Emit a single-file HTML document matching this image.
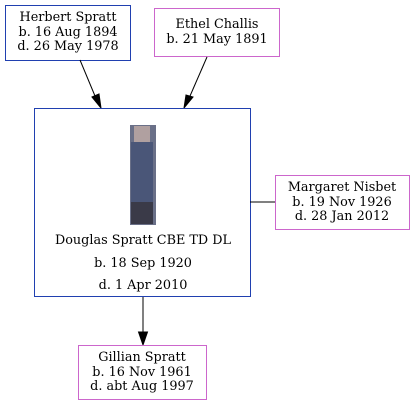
<!DOCTYPE html>
<html><head><style>body{margin:0;background:#fff}svg text{font-family:"DejaVu Serif","Liberation Serif",serif;font-size:12.8px;fill:#000}</style></head>
<body>
<svg width="415" height="405" viewBox="0 0 415 405" xmlns="http://www.w3.org/2000/svg">
<rect x="5.5" y="5.5" width="125" height="55" fill="#fff" stroke="#2040b0"/>
<text x="68" y="21" text-anchor="middle">Herbert Spratt</text>
<text x="68" y="36" text-anchor="middle">b. 16 Aug 1894</text>
<text x="68" y="50" text-anchor="middle">d. 26 May 1978</text>
<rect x="154.5" y="8.5" width="125" height="48" fill="#fff" stroke="#cc66cc"/>
<text x="217" y="28" text-anchor="middle">Ethel Challis</text>
<text x="217" y="43" text-anchor="middle">b. 21 May 1891</text>
<line x1="80" y1="60" x2="95" y2="96" stroke="#000"/>
<polygon points="92,97 101,108 99,94" fill="#000" stroke="#000"/>
<line x1="207" y1="57" x2="190" y2="96" stroke="#000"/>
<polygon points="186,95 184,108 193,97" fill="#000" stroke="#000"/>
<rect x="34.5" y="108.5" width="216" height="188" fill="#fff" stroke="#2040b0"/>
<rect x="130" y="125" width="26" height="100" fill="#6a7088"/>
<rect x="134" y="126" width="16" height="18" fill="#b0a0a0"/>
<rect x="131" y="142" width="22" height="60" fill="#4a5678"/>
<rect x="131" y="202" width="22" height="22" fill="#3a3a48"/>
<text x="143" y="244" text-anchor="middle">Douglas Spratt CBE TD DL</text>
<text x="143" y="267" text-anchor="middle">b. 18 Sep 1920</text>
<text x="143" y="289" text-anchor="middle">d. 1 Apr 2010</text>
<line x1="250" y1="202" x2="275" y2="202" stroke="#000"/>
<rect x="275.5" y="175.5" width="134" height="54" fill="#fff" stroke="#cc66cc"/>
<text x="342" y="191" text-anchor="middle">Margaret Nisbet</text>
<text x="342" y="206" text-anchor="middle">b. 19 Nov 1926</text>
<text x="342" y="220" text-anchor="middle">d. 28 Jan 2012</text>
<line x1="143" y1="297" x2="143" y2="333" stroke="#000"/>
<polygon points="138.5,332 143,345 147.5,332" fill="#000" stroke="#000"/>
<rect x="78.5" y="345.5" width="128" height="54" fill="#fff" stroke="#cc66cc"/>
<text x="142" y="361" text-anchor="middle">Gillian Spratt</text>
<text x="142" y="376" text-anchor="middle">b. 16 Nov 1961</text>
<text x="142" y="390" text-anchor="middle">d. abt Aug 1997</text>
</svg>
</body></html>
